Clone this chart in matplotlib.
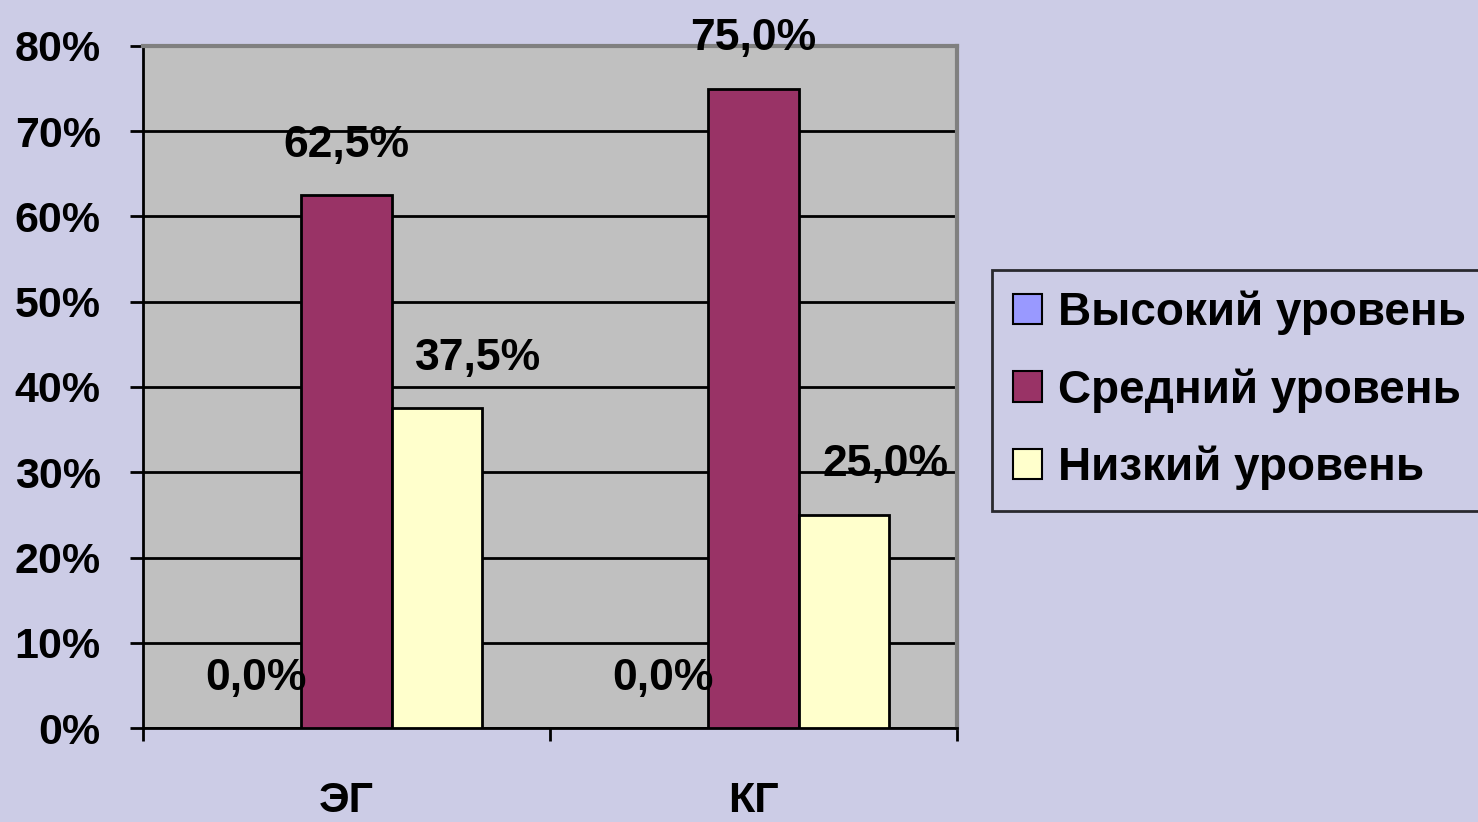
import numpy as np
import matplotlib.pyplot as plt
from matplotlib.ticker import FuncFormatter

groups = ['ЭГ', 'КГ']
series = ['Высокий уровень', 'Средний уровень', 'Низкий уровень']
values = [
    [0.0, 0.0],     # Высокий
    [62.5, 75.0],   # Средний
    [37.5, 25.0],   # Низкий
]
colors = ['#9999FF', '#993366', '#FFFFCC']
yticks = [0, 10, 20, 30, 40, 50, 60, 70, 80]

plt.rcParams['font.family'] = ['Liberation Sans', 'DejaVu Sans']
plt.rcParams['font.weight'] = 'bold'

bg = '#CCCCE6'
fig = plt.figure(figsize=(14.78, 8.22), dpi=100, facecolor=bg)
ax = fig.add_axes([143 / 1478, 1 - 728 / 822, (957 - 143) / 1478, (728 - 46) / 822])
ax.set_facecolor('#C0C0C0')

x = np.arange(len(groups))
w = 0.222
label_dx = [0, 0, 30]
for i, (name, vals, c) in enumerate(zip(series, values, colors)):
    pos = x + (i - 1) * w
    ax.bar(pos, vals, width=w, color=c, edgecolor='black', linewidth=2,
           label=name, zorder=3)
    for px, v in zip(pos, vals):
        ax.annotate(f'{v:.1f}%'.replace('.', ','), (px, v),
                    xytext=(label_dx[i], 36), textcoords='offset points',
                    ha='center', va='center', fontsize=32, fontweight='bold',
                    zorder=5, annotation_clip=False)

ax.set_xlim(-0.5, 1.5)
ax.set_ylim(0, 80)
ax.set_yticks(yticks)
ax.yaxis.set_major_formatter(FuncFormatter(lambda v, p: f'{v:.0f}%'))
ax.yaxis.grid(True, color='black', linewidth=2, zorder=0)
ax.set_axisbelow(True)

ax.set_xticks([-0.5, 0.5, 1.5])
ax.set_xticklabels([])
ax.set_xticks(x, minor=True)
ax.set_xticklabels(groups, minor=True)
ax.tick_params(axis='x', which='major', length=9, width=2, direction='out')
ax.tick_params(axis='x', which='minor', length=0, pad=38, labelsize=31)
ax.tick_params(axis='y', length=9.4, width=2, labelsize=31, pad=21)
for lab in ax.get_yticklabels() + ax.get_xticklabels(minor=True):
    lab.set_fontweight('bold')

ax.spines['left'].set_color('black')
ax.spines['bottom'].set_color('black')
ax.spines['left'].set_linewidth(2)
ax.spines['bottom'].set_linewidth(2)
ax.spines['top'].set_color('#808080')
ax.spines['right'].set_color('#808080')
ax.spines['top'].set_linewidth(3)
ax.spines['right'].set_linewidth(3)

leg = fig.legend(loc='upper left', bbox_to_anchor=(992 / 1478, 1 - 270 / 822),
                 frameon=True, fancybox=False, facecolor=bg, edgecolor='black',
                 prop={'size': 33, 'weight': 'bold'}, handlelength=0.65,
                 handleheight=0.65, handletextpad=0.35, labelspacing=0.72,
                 borderpad=0.45, borderaxespad=0)
leg.get_frame().set_linewidth(2)
for h in leg.legend_handles:
    h.set_linewidth(1.5)

fig.savefig('out.png', dpi=100, facecolor=bg)
